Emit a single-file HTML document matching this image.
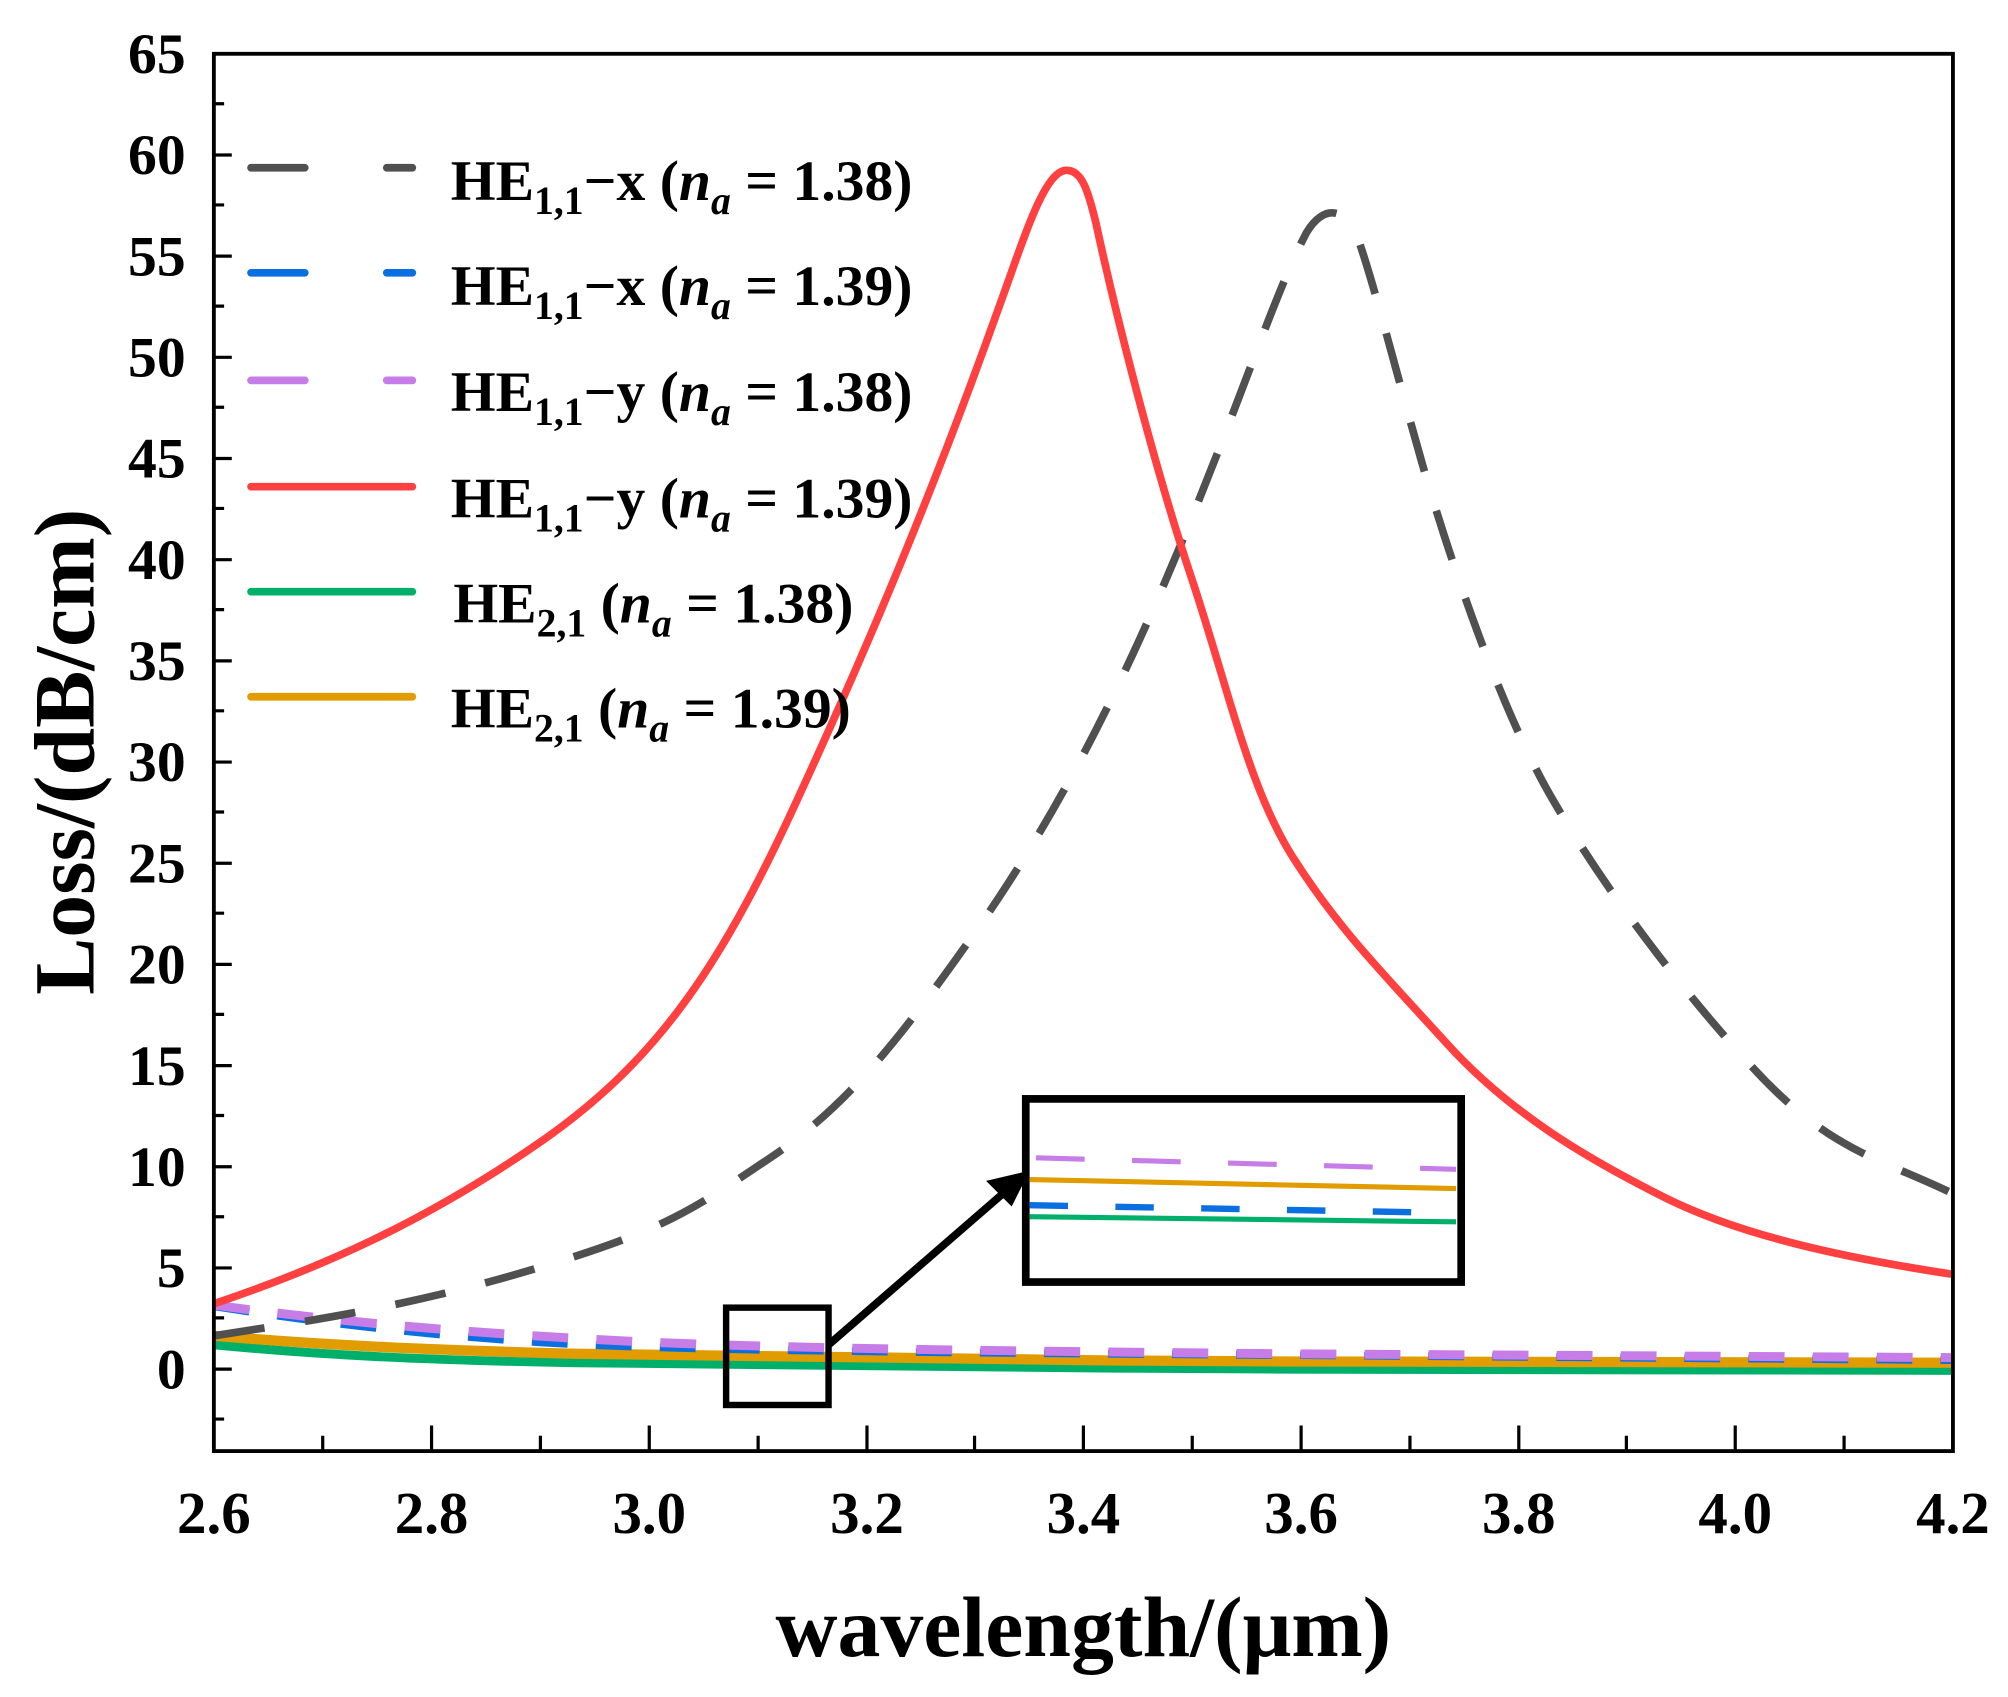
<!DOCTYPE html>
<html><head><meta charset="utf-8"><style>html,body{margin:0;padding:0;background:#fff}svg{display:block}</style></head>
<body>
<svg width="2008" height="1697" viewBox="0 0 1568 1325" preserveAspectRatio="none" xmlns="http://www.w3.org/2000/svg" font-family="Liberation Serif, serif" font-weight="bold">
<rect width="1568" height="1325" fill="#fff"/>
<g fill="none" stroke-linecap="butt" stroke-linejoin="round">
<path d="M167,1050 C250,1058 330,1062 450,1064 S800,1068 1000,1069 L1525,1070" stroke="#00b06a" stroke-width="7"/>
<path d="M167,1043 C250,1050 330,1054 450,1057 S800,1062 1000,1063 L1525,1064" stroke="#e09c00" stroke-width="8"/>
<path d="M167,1020 C250,1033 330,1042 420,1048 S700,1056 1000,1058 L1525,1062" stroke="#0a6fe0" stroke-width="6" stroke-dasharray="28,22"/>
<path d="M167,1019 C250,1030 330,1038 450,1045 S700,1054 1000,1057 L1525,1060" stroke="#c77de8" stroke-width="7" stroke-dasharray="28,22"/>
<path d="M167,1043 C250,1030 320,1020 420,990 S540,945 600,905 S700,815 760,730 S870,550 920,430 S995,230 1020,182 C1030,165 1045,158 1058,180 C1070,210 1090,290 1110,360 S1170,550 1210,620 S1310,770 1370,835 S1470,905 1525,932" stroke="#505050" stroke-width="6" stroke-dasharray="40,32"/>
<path d="M167,1018 C250,990 330,955 420,893 S560,760 620,630 S730,380 780,240 C800,185 815,135 832,133 C845,132 850,150 856,175 C870,240 900,360 930,450 S975,615 1010,670 S1080,760 1130,815 S1240,905 1300,935 S1440,982 1525,995" stroke="#ff4040" stroke-width="6"/>
</g>
<rect x="567" y="1021" width="80" height="76" fill="none" stroke="#000" stroke-width="5"/>
<line x1="647" y1="1050" x2="790" y2="926" stroke="#000" stroke-width="6"/>
<polygon points="804,914 770,922 790,942" fill="#000"/>
<rect x="801" y="858" width="340" height="143" fill="#fff" stroke="#000" stroke-width="6"/>
<g fill="none">
<path d="M809,904 L1137,913" stroke="#c77de8" stroke-width="4" stroke-dasharray="38,37"/>
<path d="M804,921 L1137,928" stroke="#e09c00" stroke-width="4"/>
<path d="M804,941 L1130,947" stroke="#0a6fe0" stroke-width="5" stroke-dasharray="30,37"/>
<path d="M804,950 L1137,954" stroke="#00b06a" stroke-width="4"/>
</g>
<rect x="167" y="42" width="1358" height="1091" fill="none" stroke="#000" stroke-width="3"/>
<g stroke="#000" stroke-width="2.5">
<path d="M167,42h14M167,81h8M167,121h14M167,160h8M167,200h14M167,239h8M167,279h14M167,318h8M167,358h14M167,397h8M167,437h14M167,476h8M167,516h14M167,555h8M167,595h14M167,634h8M167,674h14M167,713h8M167,753h14M167,792h8M167,832h14M167,871h8M167,911h14M167,950h8M167,990h14M167,1029h8M167,1069h14M167,1108h8"/>
<path d="M337,1133v-20M507,1133v-20M677,1133v-20M846,1133v-20M1016,1133v-20M1186,1133v-20M1355,1133v-20M252,1133v-12M422,1133v-12M592,1133v-12M761,1133v-12M931,1133v-12M1101,1133v-12M1270,1133v-12M1440,1133v-12"/>
</g>
<g font-size="45" text-anchor="end">
<text x="145" y="57">65</text><text x="145" y="136">60</text><text x="145" y="215">55</text><text x="145" y="294">50</text><text x="145" y="373">45</text><text x="145" y="452">40</text><text x="145" y="531">35</text><text x="145" y="610">30</text><text x="145" y="689">25</text><text x="145" y="768">20</text><text x="145" y="847">15</text><text x="145" y="926">10</text><text x="145" y="1005">5</text><text x="145" y="1084">0</text>
</g>
<g font-size="46" text-anchor="middle">
<text x="167" y="1197">2.6</text><text x="337" y="1197">2.8</text><text x="507" y="1197">3.0</text><text x="677" y="1197">3.2</text><text x="846" y="1197">3.4</text><text x="1016" y="1197">3.6</text><text x="1186" y="1197">3.8</text><text x="1355" y="1197">4.0</text><text x="1525" y="1197">4.2</text>
</g>
<text x="846" y="1293" font-size="67" text-anchor="middle">wavelength/(μm)</text>
<text transform="translate(73,587) rotate(-90)" font-size="67" text-anchor="middle">Loss/(dB/cm)</text>
<g stroke-width="6" stroke-linecap="round">
<path d="M196,131h42M302,131h20" stroke="#505050"/>
<path d="M196,213h42M302,213h20" stroke="#0a6fe0"/>
<path d="M196,297h42M302,297h20" stroke="#c77de8"/>
<path d="M196,380h126" stroke="#ff4040"/>
<path d="M196,462h126" stroke="#00b06a"/>
<path d="M196,544h126" stroke="#e09c00"/>
</g>
<g font-size="45">
<text x="352" y="156">HE<tspan font-size="31" dy="11">1,1</tspan><tspan dy="-11">−x (</tspan><tspan font-style="italic">n</tspan><tspan font-size="31" font-style="italic" dy="11">a</tspan><tspan dy="-11"> = 1.38)</tspan></text>
<text x="352" y="238">HE<tspan font-size="31" dy="11">1,1</tspan><tspan dy="-11">−x (</tspan><tspan font-style="italic">n</tspan><tspan font-size="31" font-style="italic" dy="11">a</tspan><tspan dy="-11"> = 1.39)</tspan></text>
<text x="352" y="321">HE<tspan font-size="31" dy="11">1,1</tspan><tspan dy="-11">−y (</tspan><tspan font-style="italic">n</tspan><tspan font-size="31" font-style="italic" dy="11">a</tspan><tspan dy="-11"> = 1.38)</tspan></text>
<text x="352" y="404">HE<tspan font-size="31" dy="11">1,1</tspan><tspan dy="-11">−y (</tspan><tspan font-style="italic">n</tspan><tspan font-size="31" font-style="italic" dy="11">a</tspan><tspan dy="-11"> = 1.39)</tspan></text>
<text x="354" y="486">HE<tspan font-size="31" dy="11">2,1</tspan><tspan dy="-11"> (</tspan><tspan font-style="italic">n</tspan><tspan font-size="31" font-style="italic" dy="11">a</tspan><tspan dy="-11"> = 1.38)</tspan></text>
<text x="352" y="568">HE<tspan font-size="31" dy="11">2,1</tspan><tspan dy="-11"> (</tspan><tspan font-style="italic">n</tspan><tspan font-size="31" font-style="italic" dy="11">a</tspan><tspan dy="-11"> = 1.39)</tspan></text>
</g>
</svg>
</body></html>
